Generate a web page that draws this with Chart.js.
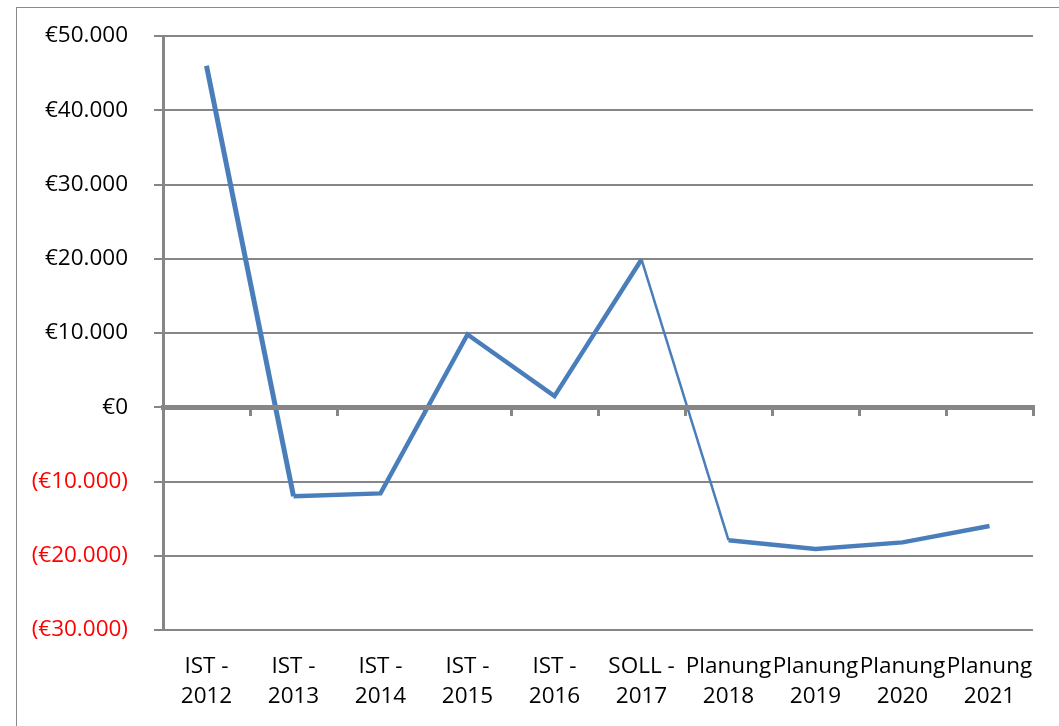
<!DOCTYPE html>
<html>
<head>
<meta charset="utf-8">
<script src="https://cdn.jsdelivr.net/npm/chart.js@4/dist/chart.umd.min.js"></script>
<style>
  html, body { margin: 0; padding: 0; background: #ffffff; }
  #wrap { position: relative; width: 1059px; height: 726px; }
</style>
</head>
<body>
<div id="wrap"><canvas id="c" width="1059" height="726"></canvas></div>
<script>
const categories = [
  ['IST -', '2012'], ['IST -', '2013'], ['IST -', '2014'], ['IST -', '2015'], ['IST -', '2016'],
  ['SOLL -', '2017'], ['Planung', '2018'], ['Planung', '2019'], ['Planung', '2020'], ['Planung', '2021']
];
const values = [46000, -12000, -11600, 9800, 1500, 19900, -17900, -19100, -18200, -16000];
const yMin = -30000;
const yMax = 50000;
const yStep = 10000;

const FONT = '"Open Sans", "Noto Sans", sans-serif';
const GRID = '#868686';

function euro(v) {
  const s = Math.abs(v).toString().replace(/\B(?=(\d{3})+(?!\d))/g, '.');
  return v < 0 ? '(€' + s + ')' : '€' + s;
}

const outerBorder = {
  id: 'outerBorder',
  beforeDraw(chart) {
    const ctx = chart.ctx;
    ctx.save();
    ctx.fillStyle = '#ffffff';
    ctx.fillRect(0, 0, chart.width, chart.height);
    ctx.strokeStyle = '#8a8a8a';
    ctx.lineWidth = 1;
    ctx.strokeRect(16.5, 7.5, 1200, 900);
    ctx.restore();
  }
};

new Chart(document.getElementById('c'), {
  type: 'line',
  data: {
    labels: categories,
    datasets: [{
      data: values,
      borderColor: '#4a7ebb',
      borderWidth: 4.5,
      pointRadius: 0,
      tension: 0,
      fill: false,
      segment: {
        borderWidth: ctx => ctx.p0DataIndex === 5 ? 2.5 : (ctx.p0DataIndex === 0 ? 5 : 4.5)
      }
    }]
  },
  options: {
    responsive: false,
    animation: false,
    plugins: { legend: { display: false }, tooltip: { enabled: false } },
    layout: { padding: { top: 36, right: 26, bottom: 0, left: 0 } },
    scales: {
      x: {
        type: 'category',
        position: 'bottom',
        offset: true,
        grid: { display: false, drawTicks: false },
        border: { display: false },
        ticks: {
          maxRotation: 0, minRotation: 0, autoSkip: false,
          padding: 22,
          color: '#000000',
          font: { family: FONT, size: 22.5, lineHeight: 1.33 }
        },
        afterFit(s) { s.height = 96; s.paddingLeft = 0; s.paddingRight = 0; }
      },
      x2: {
        type: 'category',
        position: { y: 0 },
        offset: true,
        grid: { offset: true, drawOnChartArea: false, drawTicks: true, tickLength: 6, color: GRID, lineWidth: 3 },
        border: { display: true, color: GRID, width: 5, z: 1 },
        ticks: { display: false }
      },
      y: {
        min: yMin,
        max: yMax,
        ticks: {
          stepSize: yStep,
          padding: 26,
          color: ctx => (ctx.tick && ctx.tick.value < 0) ? '#ff0000' : '#000000',
          font: { family: FONT, size: 22.5 },
          callback: v => euro(v)
        },
        grid: { color: GRID, lineWidth: 2, drawTicks: true, tickLength: 9 },
        border: { display: true, color: GRID, width: 3 },
        afterFit(s) { s.width = 163; s.paddingTop = 0; s.paddingBottom = 0; }
      }
    }
  },
  plugins: [outerBorder]
});
</script>
</body>
</html>
